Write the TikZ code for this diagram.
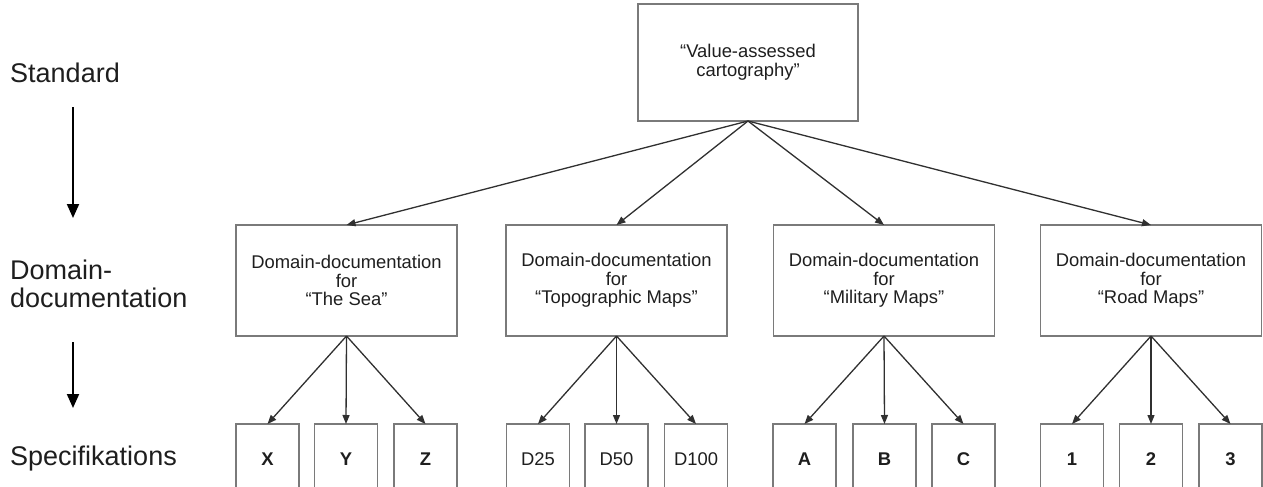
\documentclass[tikz,border=0pt]{standalone}
\usepackage{fontspec}
\setmainfont{Liberation Sans}
\usetikzlibrary{arrows.meta}
\definecolor{boxgray}{HTML}{7A7A7A}
\definecolor{arrgray}{HTML}{303030}
\definecolor{txt}{HTML}{1E1E1E}
\begin{document}
\begin{tikzpicture}[x=1pt,y=-1pt,
 box/.style={draw=boxgray, line width=1.5pt, inner sep=0pt, outer sep=0pt, align=center, text=txt, font=\fontsize{18.4pt}{18.6pt}\selectfont},
 topbox/.style={box, minimum width=220pt, minimum height=117pt},
 dombox/.style={box, minimum width=221pt, minimum height=111pt},
 leaf/.style={box, minimum width=63pt, minimum height=70pt},
 conn/.style={draw=arrgray, line width=1.3pt, -{Triangle[length=9pt,width=7pt]}},
 levellabel/.style={anchor=base west, inner sep=0pt, text=txt, font=\fontsize{27pt}{27pt}\selectfont},
 levelarrow/.style={draw=black, line width=2pt, -{Triangle[length=14pt,width=12pt]}}]
\useasboundingbox (0,0) rectangle (1263,487);
\clip (0,0) rectangle (1263,487);

% level labels
\node[levellabel] (lstd) at (10,82) {Standard};
\node[levellabel] (ldom) at (10,307) {\begin{tabular}[b]{@{}l@{}}Domain-\\documentation\end{tabular}};
\node[levellabel] (lspec) at (10,465) {Specifikations};
\coordinate (a1s) at (73,107);
\coordinate (a1e) at (73,218);
\coordinate (a2s) at (73,342);
\coordinate (a2e) at (73,408);
\draw[levelarrow] (a1s) -- (a1e);
\draw[levelarrow] (a2s) -- (a2e);

% top
\node[topbox] (top) at (748,62.5) {“Value-assessed\\cartography”};

% domain boxes
\node[dombox] (d1) at (346.5,280.5) {Domain-documentation\\for\\“The Sea”};
\node[dombox] (d2) at (616.5,280.5) {Domain-documentation\\for\\“Topographic Maps”};
\node[dombox] (d3) at (884,280.5) {Domain-documentation\\for\\“Military Maps”};
\node[dombox] (d4) at (1151,280.5) {Domain-documentation\\for\\“Road Maps”};

\foreach \d in {d1,d2,d3,d4} \draw[conn] (top.south) -- (\d.north);

% leaves
\node[leaf] (x) at (267.5,459) {\bfseries X};
\node[leaf] (y) at (346,459) {\bfseries Y};
\node[leaf] (z) at (425.5,459) {\bfseries Z};
\node[leaf] (t1) at (538,459) {D25};
\node[leaf] (t2) at (616.5,459) {D50};
\node[leaf] (t3) at (696,459) {D100};
\node[leaf] (ma) at (804.5,459) {\bfseries A};
\node[leaf] (mb) at (884.5,459) {\bfseries B};
\node[leaf] (mc) at (963.5,459) {\bfseries C};
\node[leaf] (r1) at (1072,459) {\bfseries 1};
\node[leaf] (r2) at (1151,459) {\bfseries 2};
\node[leaf] (r3) at (1230.5,459) {\bfseries 3};

\foreach \l in {x,y,z} \draw[conn] (d1.south) -- (\l.north);
\foreach \l in {t1,t2,t3} \draw[conn] (d2.south) -- (\l.north);
\foreach \l in {ma,mb,mc} \draw[conn] (d3.south) -- (\l.north);
\foreach \l in {r1,r2,r3} \draw[conn] (d4.south) -- (\l.north);
\end{tikzpicture}
\end{document}
